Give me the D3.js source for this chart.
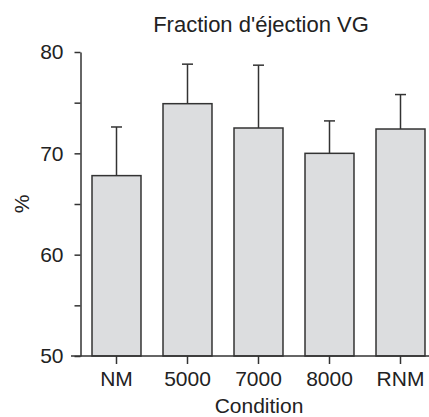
<!DOCTYPE html>
<html>
<head>
<meta charset="utf-8">
<script src="https://cdn.jsdelivr.net/npm/d3@7"></script>
<style>
    body { margin: 0; background: #fff; }
    svg text { font-family: "Liberation Sans", Arial, Helvetica, sans-serif; fill: #222; }
</style>
</head>
<body>
<div id="chart"></div>
<script>
// données
const conditions = ["NM", "5000", "7000", "8000", "RNM"];
const moyennes = [67.8, 74.9, 72.5, 70.0, 72.4];
const ecarts = [4.8, 3.9, 6.2, 3.2, 3.4];
const yTicks = [50, 55, 60, 65, 70, 75, 80];
const yLabels = [50, 60, 70, 80];

const width = 429, height = 417;
const svg = d3.select("#chart")
    .append("svg")
    .attr("width", width)
    .attr("height", height);

const x = d3.scaleBand()
    .domain(conditions)
    .range([81, 436])
    .paddingInner(0.31)
    .paddingOuter(0.155);

const y = d3.scaleLinear()
    .domain([50, 80])
    .range([356, 52]);

const stroke = "#333";

// barres
svg.selectAll("rect.bar")
    .data(conditions)
    .enter()
    .append("rect")
    .attr("class", "bar")
    .attr("x", d => x(d))
    .attr("y", (d, i) => y(moyennes[i]))
    .attr("width", x.bandwidth())
    .attr("height", (d, i) => y(50) - y(moyennes[i]))
    .attr("fill", "#dcdddf")
    .attr("stroke", stroke)
    .attr("stroke-width", 1.5);

// barres d'erreur
const cap = 5.5;
conditions.forEach((c, i) => {
    const cx = x(c) + x.bandwidth() / 2;
    svg.append("line")
        .attr("x1", cx).attr("x2", cx)
        .attr("y1", y(moyennes[i]))
        .attr("y2", y(moyennes[i] + ecarts[i]))
        .attr("stroke", stroke)
        .attr("stroke-width", 1.5);
    svg.append("line")
        .attr("x1", cx - cap).attr("x2", cx + cap)
        .attr("y1", y(moyennes[i] + ecarts[i]))
        .attr("y2", y(moyennes[i] + ecarts[i]))
        .attr("stroke", stroke)
        .attr("stroke-width", 1.5);
});

// axe Y
const yAxis = svg.append("g")
    .attr("transform", "translate(80.5,0)")
    .call(d3.axisLeft(y)
        .tickValues(yTicks)
        .tickSize(6)
        .tickSizeOuter(0)
        .tickFormat(d => yLabels.includes(d) ? d : ""));
yAxis.select(".domain").attr("stroke", stroke).attr("stroke-width", 1.5);
yAxis.selectAll(".tick line").attr("stroke", stroke).attr("stroke-width", 1.5);
yAxis.selectAll(".tick text")
    .attr("x", -17)
    .style("font-size", "21px")
    .style("fill", "#222");

// axe X
const xAxis = svg.append("g")
    .attr("transform", "translate(0,356)")
    .call(d3.axisBottom(x).tickSize(8).tickSizeOuter(0));
xAxis.select(".domain").remove();
xAxis.append("line")
    .attr("x1", 71).attr("x2", width)
    .attr("y1", 0).attr("y2", 0)
    .attr("stroke", stroke)
    .attr("stroke-width", 1.5);
xAxis.selectAll(".tick line").attr("stroke", stroke).attr("stroke-width", 1.5);
xAxis.selectAll(".tick text")
    .attr("y", 15)
    .style("font-size", "21px")
    .style("fill", "#222");

// titres
svg.append("text")
    .attr("x", 261)
    .attr("y", 32)
    .attr("text-anchor", "middle")
    .style("font-size", "22px")
    .text("Fraction d'éjection VG");

svg.append("text")
    .attr("x", 259)
    .attr("y", 413)
    .attr("text-anchor", "middle")
    .style("font-size", "21px")
    .text("Condition");

svg.append("text")
    .attr("transform", "translate(29,204) rotate(-90)")
    .attr("text-anchor", "middle")
    .style("font-size", "21px")
    .text("%");
</script>
</body>
</html>
